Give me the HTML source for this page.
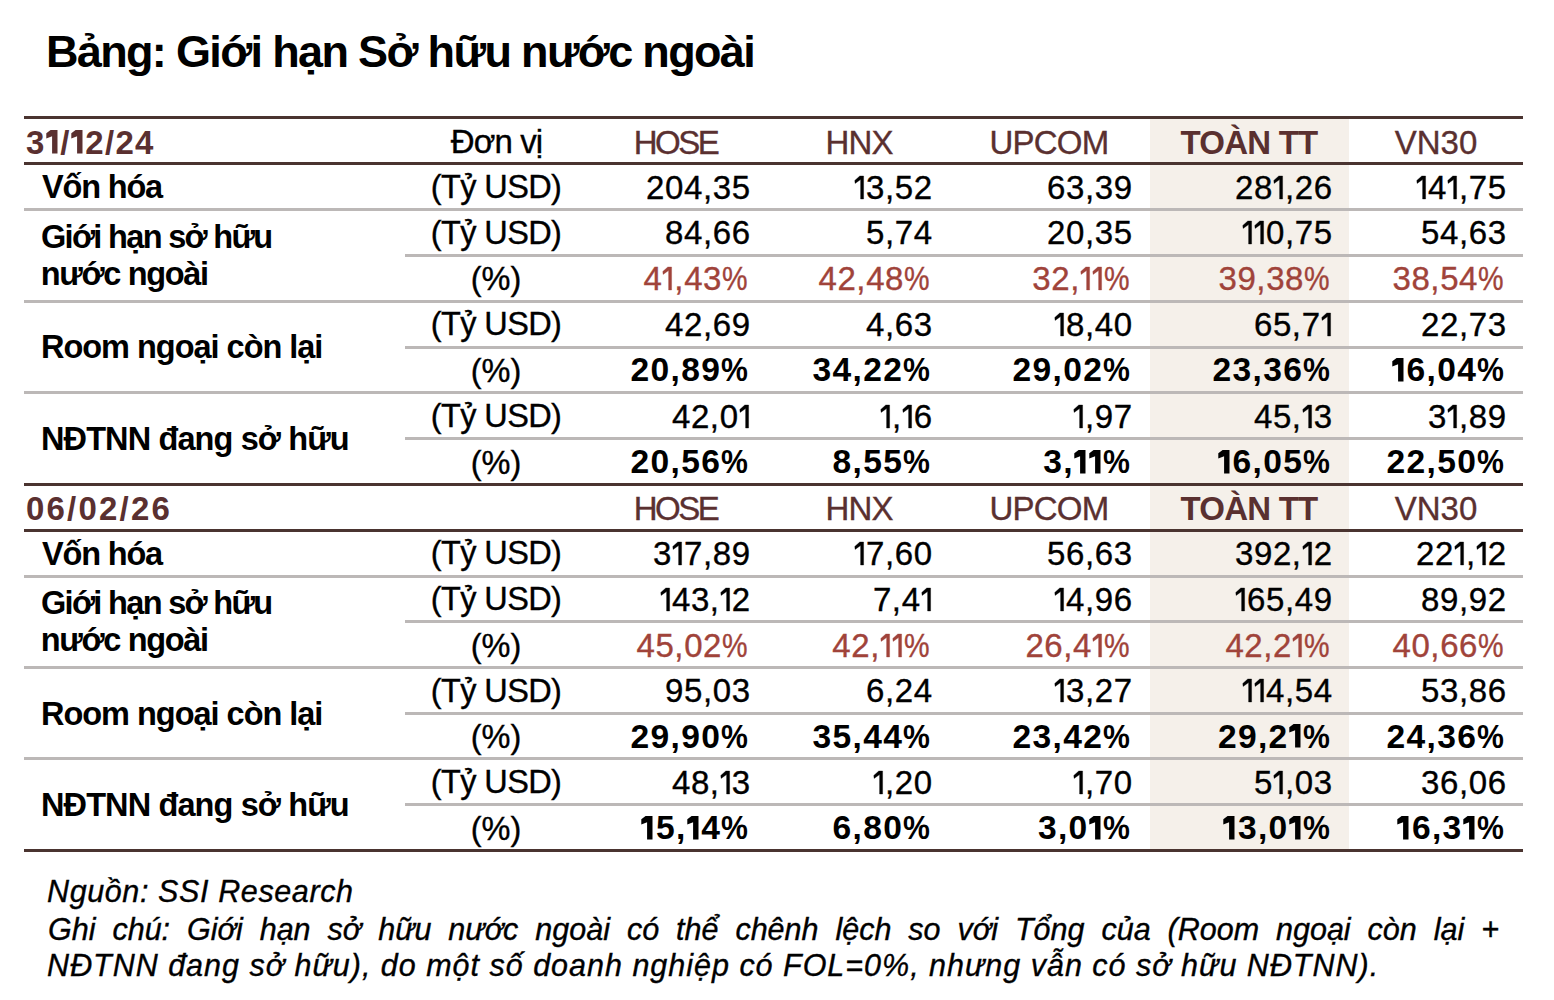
<!DOCTYPE html><html><head><meta charset="utf-8"><title>Giới hạn Sở hữu nước ngoài</title><style>
html,body{margin:0;padding:0;background:#fff;}
body{width:1554px;height:1000px;position:relative;overflow:hidden;font-family:"Liberation Sans",sans-serif;color:#000;}
.t{position:absolute;white-space:nowrap;-webkit-text-stroke:0.35px currentColor;}
.ln{position:absolute;}
</style></head><body>
<div class="ln" style="left:1150px;top:116px;width:199px;height:733px;background:#f5f0ea"></div>
<div class="ln" style="left:24px;top:116px;width:1499px;height:3px;background:#4a3430"></div>
<div class="ln" style="left:24px;top:162px;width:1499px;height:3px;background:#4a3430"></div>
<div class="ln" style="left:24px;top:208px;width:1499px;height:3px;background:#bcb8b7"></div>
<div class="ln" style="left:405px;top:254px;width:1118px;height:3px;background:#bcb8b7"></div>
<div class="ln" style="left:24px;top:300px;width:1499px;height:3px;background:#bcb8b7"></div>
<div class="ln" style="left:405px;top:346px;width:1118px;height:3px;background:#bcb8b7"></div>
<div class="ln" style="left:24px;top:391px;width:1499px;height:3px;background:#bcb8b7"></div>
<div class="ln" style="left:405px;top:437px;width:1118px;height:3px;background:#bcb8b7"></div>
<div class="ln" style="left:24px;top:483px;width:1499px;height:3px;background:#4a3430"></div>
<div class="ln" style="left:24px;top:529px;width:1499px;height:3px;background:#4a3430"></div>
<div class="ln" style="left:24px;top:575px;width:1499px;height:3px;background:#bcb8b7"></div>
<div class="ln" style="left:405px;top:620px;width:1118px;height:3px;background:#bcb8b7"></div>
<div class="ln" style="left:24px;top:666px;width:1499px;height:3px;background:#bcb8b7"></div>
<div class="ln" style="left:405px;top:712px;width:1118px;height:3px;background:#bcb8b7"></div>
<div class="ln" style="left:24px;top:757px;width:1499px;height:3px;background:#bcb8b7"></div>
<div class="ln" style="left:405px;top:803px;width:1118px;height:3px;background:#bcb8b7"></div>
<div class="ln" style="left:24px;top:849px;width:1499px;height:3px;background:#4a3430"></div>
<div class="t" style="top:29.43px;font-size:45.00px;line-height:45.00px;font-weight:bold;-webkit-text-stroke:0;letter-spacing:-1.66px;left:46.0px;">Bảng: Giới hạn Sở hữu nước ngoài</div>
<div class="t" style="top:125.78px;font-size:33.00px;line-height:33.00px;font-weight:bold;-webkit-text-stroke:0;color:#5a3030;letter-spacing:1.30px;left:26.0px;">3<svg width="14.6" height="23.4" viewBox="0 0 14.6 23.4" style="vertical-align:baseline;overflow:visible"><polygon points="0.3,3.3 4.6,0 11.5,0 11.5,23.4 6.1,23.4 6.1,6.2 0.3,8.6" fill="currentColor"/></svg>/<svg width="14.6" height="23.4" viewBox="0 0 14.6 23.4" style="vertical-align:baseline;overflow:visible"><polygon points="0.3,3.3 4.6,0 11.5,0 11.5,23.4 6.1,23.4 6.1,6.2 0.3,8.6" fill="currentColor"/></svg>2/24</div>
<div class="t" style="top:125.38px;font-size:33.00px;line-height:33.00px;letter-spacing:-0.90px;left:496.5px;width:0;display:flex;justify-content:center;">Đơn vị</div>
<div class="t" style="top:125.59px;font-size:33.00px;line-height:33.00px;color:#5a3030;letter-spacing:-2.50px;left:675.5px;width:0;display:flex;justify-content:center;">HOSE</div>
<div class="t" style="top:125.59px;font-size:33.00px;line-height:33.00px;color:#5a3030;letter-spacing:-0.90px;left:859.0px;width:0;display:flex;justify-content:center;">HNX</div>
<div class="t" style="top:125.59px;font-size:33.00px;line-height:33.00px;color:#5a3030;letter-spacing:-0.80px;left:1049.0px;width:0;display:flex;justify-content:center;">UPCOM</div>
<div class="t" style="top:125.78px;font-size:33.00px;line-height:33.00px;font-weight:bold;-webkit-text-stroke:0;color:#5a3030;letter-spacing:-0.80px;left:1249.0px;width:0;display:flex;justify-content:center;">TOÀN TT</div>
<div class="t" style="top:125.59px;font-size:33.00px;line-height:33.00px;color:#5a3030;left:1436.0px;width:0;display:flex;justify-content:center;">VN30</div>
<div class="t" style="top:170.81px;font-size:32.50px;line-height:32.50px;letter-spacing:-0.60px;left:496.0px;width:0;display:flex;justify-content:center;">(Tỷ USD)</div>
<div class="t" style="top:170.59px;font-size:33.00px;line-height:33.00px;letter-spacing:0.60px;right:803.40px;">204,35</div>
<div class="t" style="top:170.59px;font-size:33.00px;line-height:33.00px;letter-spacing:0.60px;right:621.40px;"><svg width="12.0" height="23.0" viewBox="0 0 12.0 23.0" style="vertical-align:baseline;overflow:visible"><polygon points="0.8,4.4 5.8,0 9.6,0 9.6,23 6.6,23 6.6,3.6 1.1,7.4" fill="currentColor" stroke="currentColor" stroke-width="0.35"/></svg>3,52</div>
<div class="t" style="top:170.59px;font-size:33.00px;line-height:33.00px;letter-spacing:0.60px;right:421.40px;">63,39</div>
<div class="t" style="top:170.59px;font-size:33.00px;line-height:33.00px;letter-spacing:0.60px;right:221.40px;">28<svg width="12.0" height="23.0" viewBox="0 0 12.0 23.0" style="vertical-align:baseline;overflow:visible"><polygon points="0.8,4.4 5.8,0 9.6,0 9.6,23 6.6,23 6.6,3.6 1.1,7.4" fill="currentColor" stroke="currentColor" stroke-width="0.35"/></svg>,26</div>
<div class="t" style="top:170.59px;font-size:33.00px;line-height:33.00px;letter-spacing:0.60px;right:47.40px;"><svg width="12.0" height="23.0" viewBox="0 0 12.0 23.0" style="vertical-align:baseline;overflow:visible"><polygon points="0.8,4.4 5.8,0 9.6,0 9.6,23 6.6,23 6.6,3.6 1.1,7.4" fill="currentColor" stroke="currentColor" stroke-width="0.35"/></svg>4<svg width="12.0" height="23.0" viewBox="0 0 12.0 23.0" style="vertical-align:baseline;overflow:visible"><polygon points="0.8,4.4 5.8,0 9.6,0 9.6,23 6.6,23 6.6,3.6 1.1,7.4" fill="currentColor" stroke="currentColor" stroke-width="0.35"/></svg>,75</div>
<div class="t" style="top:216.61px;font-size:32.50px;line-height:32.50px;letter-spacing:-0.60px;left:496.0px;width:0;display:flex;justify-content:center;">(Tỷ USD)</div>
<div class="t" style="top:216.38px;font-size:33.00px;line-height:33.00px;letter-spacing:0.60px;right:803.40px;">84,66</div>
<div class="t" style="top:216.38px;font-size:33.00px;line-height:33.00px;letter-spacing:0.60px;right:621.40px;">5,74</div>
<div class="t" style="top:216.38px;font-size:33.00px;line-height:33.00px;letter-spacing:0.60px;right:421.40px;">20,35</div>
<div class="t" style="top:216.38px;font-size:33.00px;line-height:33.00px;letter-spacing:0.60px;right:221.40px;"><svg width="12.0" height="23.0" viewBox="0 0 12.0 23.0" style="vertical-align:baseline;overflow:visible"><polygon points="0.8,4.4 5.8,0 9.6,0 9.6,23 6.6,23 6.6,3.6 1.1,7.4" fill="currentColor" stroke="currentColor" stroke-width="0.35"/></svg><svg width="12.0" height="23.0" viewBox="0 0 12.0 23.0" style="vertical-align:baseline;overflow:visible"><polygon points="0.8,4.4 5.8,0 9.6,0 9.6,23 6.6,23 6.6,3.6 1.1,7.4" fill="currentColor" stroke="currentColor" stroke-width="0.35"/></svg>0,75</div>
<div class="t" style="top:216.38px;font-size:33.00px;line-height:33.00px;letter-spacing:0.60px;right:47.40px;">54,63</div>
<div class="t" style="top:263.41px;font-size:32.50px;line-height:32.50px;left:496.0px;width:0;display:flex;justify-content:center;">(%)</div>
<div class="t" style="top:262.19px;font-size:33.00px;line-height:33.00px;color:#a0433a;letter-spacing:0.60px;right:805.40px;">4<svg width="12.0" height="23.0" viewBox="0 0 12.0 23.0" style="vertical-align:baseline;overflow:visible"><polygon points="0.8,4.4 5.8,0 9.6,0 9.6,23 6.6,23 6.6,3.6 1.1,7.4" fill="currentColor" stroke="currentColor" stroke-width="0.35"/></svg>,43<span style="display:inline-block;transform:scaleX(0.87);transform-origin:0 0;margin-right:-3.4px">%</span></div>
<div class="t" style="top:262.19px;font-size:33.00px;line-height:33.00px;color:#a0433a;letter-spacing:0.60px;right:623.40px;">42,48<span style="display:inline-block;transform:scaleX(0.87);transform-origin:0 0;margin-right:-3.4px">%</span></div>
<div class="t" style="top:262.19px;font-size:33.00px;line-height:33.00px;color:#a0433a;letter-spacing:0.60px;right:423.40px;">32,<svg width="12.0" height="23.0" viewBox="0 0 12.0 23.0" style="vertical-align:baseline;overflow:visible"><polygon points="0.8,4.4 5.8,0 9.6,0 9.6,23 6.6,23 6.6,3.6 1.1,7.4" fill="currentColor" stroke="currentColor" stroke-width="0.35"/></svg><svg width="12.0" height="23.0" viewBox="0 0 12.0 23.0" style="vertical-align:baseline;overflow:visible"><polygon points="0.8,4.4 5.8,0 9.6,0 9.6,23 6.6,23 6.6,3.6 1.1,7.4" fill="currentColor" stroke="currentColor" stroke-width="0.35"/></svg><span style="display:inline-block;transform:scaleX(0.87);transform-origin:0 0;margin-right:-3.4px">%</span></div>
<div class="t" style="top:262.19px;font-size:33.00px;line-height:33.00px;color:#a0433a;letter-spacing:0.60px;right:223.40px;">39,38<span style="display:inline-block;transform:scaleX(0.87);transform-origin:0 0;margin-right:-3.4px">%</span></div>
<div class="t" style="top:262.19px;font-size:33.00px;line-height:33.00px;color:#a0433a;letter-spacing:0.60px;right:49.40px;">38,54<span style="display:inline-block;transform:scaleX(0.87);transform-origin:0 0;margin-right:-3.4px">%</span></div>
<div class="t" style="top:308.21px;font-size:32.50px;line-height:32.50px;letter-spacing:-0.60px;left:496.0px;width:0;display:flex;justify-content:center;">(Tỷ USD)</div>
<div class="t" style="top:307.99px;font-size:33.00px;line-height:33.00px;letter-spacing:0.60px;right:803.40px;">42,69</div>
<div class="t" style="top:307.99px;font-size:33.00px;line-height:33.00px;letter-spacing:0.60px;right:621.40px;">4,63</div>
<div class="t" style="top:307.99px;font-size:33.00px;line-height:33.00px;letter-spacing:0.60px;right:421.40px;"><svg width="12.0" height="23.0" viewBox="0 0 12.0 23.0" style="vertical-align:baseline;overflow:visible"><polygon points="0.8,4.4 5.8,0 9.6,0 9.6,23 6.6,23 6.6,3.6 1.1,7.4" fill="currentColor" stroke="currentColor" stroke-width="0.35"/></svg>8,40</div>
<div class="t" style="top:307.99px;font-size:33.00px;line-height:33.00px;letter-spacing:0.60px;right:221.40px;">65,7<svg width="12.0" height="23.0" viewBox="0 0 12.0 23.0" style="vertical-align:baseline;overflow:visible"><polygon points="0.8,4.4 5.8,0 9.6,0 9.6,23 6.6,23 6.6,3.6 1.1,7.4" fill="currentColor" stroke="currentColor" stroke-width="0.35"/></svg></div>
<div class="t" style="top:307.99px;font-size:33.00px;line-height:33.00px;letter-spacing:0.60px;right:47.40px;">22,73</div>
<div class="t" style="top:355.01px;font-size:32.50px;line-height:32.50px;left:496.0px;width:0;display:flex;justify-content:center;">(%)</div>
<div class="t" style="top:353.47px;font-size:33.60px;line-height:33.60px;font-weight:bold;-webkit-text-stroke:0;letter-spacing:1.30px;right:804.70px;">20,89<span style="display:inline-block;transform:scaleX(0.9);transform-origin:0 0;margin-right:-3.0px">%</span></div>
<div class="t" style="top:353.47px;font-size:33.60px;line-height:33.60px;font-weight:bold;-webkit-text-stroke:0;letter-spacing:1.30px;right:622.70px;">34,22<span style="display:inline-block;transform:scaleX(0.9);transform-origin:0 0;margin-right:-3.0px">%</span></div>
<div class="t" style="top:353.47px;font-size:33.60px;line-height:33.60px;font-weight:bold;-webkit-text-stroke:0;letter-spacing:1.30px;right:422.70px;">29,02<span style="display:inline-block;transform:scaleX(0.9);transform-origin:0 0;margin-right:-3.0px">%</span></div>
<div class="t" style="top:353.47px;font-size:33.60px;line-height:33.60px;font-weight:bold;-webkit-text-stroke:0;letter-spacing:1.30px;right:222.70px;">23,36<span style="display:inline-block;transform:scaleX(0.9);transform-origin:0 0;margin-right:-3.0px">%</span></div>
<div class="t" style="top:353.47px;font-size:33.60px;line-height:33.60px;font-weight:bold;-webkit-text-stroke:0;letter-spacing:1.30px;right:48.70px;"><svg width="14.6" height="23.4" viewBox="0 0 14.6 23.4" style="vertical-align:baseline;overflow:visible"><polygon points="0.3,3.3 4.6,0 11.5,0 11.5,23.4 6.1,23.4 6.1,6.2 0.3,8.6" fill="currentColor"/></svg>6,04<span style="display:inline-block;transform:scaleX(0.9);transform-origin:0 0;margin-right:-3.0px">%</span></div>
<div class="t" style="top:399.81px;font-size:32.50px;line-height:32.50px;letter-spacing:-0.60px;left:496.0px;width:0;display:flex;justify-content:center;">(Tỷ USD)</div>
<div class="t" style="top:399.58px;font-size:33.00px;line-height:33.00px;letter-spacing:0.60px;right:803.40px;">42,0<svg width="12.0" height="23.0" viewBox="0 0 12.0 23.0" style="vertical-align:baseline;overflow:visible"><polygon points="0.8,4.4 5.8,0 9.6,0 9.6,23 6.6,23 6.6,3.6 1.1,7.4" fill="currentColor" stroke="currentColor" stroke-width="0.35"/></svg></div>
<div class="t" style="top:399.58px;font-size:33.00px;line-height:33.00px;letter-spacing:0.60px;right:621.40px;"><svg width="12.0" height="23.0" viewBox="0 0 12.0 23.0" style="vertical-align:baseline;overflow:visible"><polygon points="0.8,4.4 5.8,0 9.6,0 9.6,23 6.6,23 6.6,3.6 1.1,7.4" fill="currentColor" stroke="currentColor" stroke-width="0.35"/></svg>,<svg width="12.0" height="23.0" viewBox="0 0 12.0 23.0" style="vertical-align:baseline;overflow:visible"><polygon points="0.8,4.4 5.8,0 9.6,0 9.6,23 6.6,23 6.6,3.6 1.1,7.4" fill="currentColor" stroke="currentColor" stroke-width="0.35"/></svg>6</div>
<div class="t" style="top:399.58px;font-size:33.00px;line-height:33.00px;letter-spacing:0.60px;right:421.40px;"><svg width="12.0" height="23.0" viewBox="0 0 12.0 23.0" style="vertical-align:baseline;overflow:visible"><polygon points="0.8,4.4 5.8,0 9.6,0 9.6,23 6.6,23 6.6,3.6 1.1,7.4" fill="currentColor" stroke="currentColor" stroke-width="0.35"/></svg>,97</div>
<div class="t" style="top:399.58px;font-size:33.00px;line-height:33.00px;letter-spacing:0.60px;right:221.40px;">45,<svg width="12.0" height="23.0" viewBox="0 0 12.0 23.0" style="vertical-align:baseline;overflow:visible"><polygon points="0.8,4.4 5.8,0 9.6,0 9.6,23 6.6,23 6.6,3.6 1.1,7.4" fill="currentColor" stroke="currentColor" stroke-width="0.35"/></svg>3</div>
<div class="t" style="top:399.58px;font-size:33.00px;line-height:33.00px;letter-spacing:0.60px;right:47.40px;">3<svg width="12.0" height="23.0" viewBox="0 0 12.0 23.0" style="vertical-align:baseline;overflow:visible"><polygon points="0.8,4.4 5.8,0 9.6,0 9.6,23 6.6,23 6.6,3.6 1.1,7.4" fill="currentColor" stroke="currentColor" stroke-width="0.35"/></svg>,89</div>
<div class="t" style="top:446.61px;font-size:32.50px;line-height:32.50px;left:496.0px;width:0;display:flex;justify-content:center;">(%)</div>
<div class="t" style="top:445.07px;font-size:33.60px;line-height:33.60px;font-weight:bold;-webkit-text-stroke:0;letter-spacing:1.30px;right:804.70px;">20,56<span style="display:inline-block;transform:scaleX(0.9);transform-origin:0 0;margin-right:-3.0px">%</span></div>
<div class="t" style="top:445.07px;font-size:33.60px;line-height:33.60px;font-weight:bold;-webkit-text-stroke:0;letter-spacing:1.30px;right:622.70px;">8,55<span style="display:inline-block;transform:scaleX(0.9);transform-origin:0 0;margin-right:-3.0px">%</span></div>
<div class="t" style="top:445.07px;font-size:33.60px;line-height:33.60px;font-weight:bold;-webkit-text-stroke:0;letter-spacing:1.30px;right:422.70px;">3,<svg width="14.6" height="23.4" viewBox="0 0 14.6 23.4" style="vertical-align:baseline;overflow:visible"><polygon points="0.3,3.3 4.6,0 11.5,0 11.5,23.4 6.1,23.4 6.1,6.2 0.3,8.6" fill="currentColor"/></svg><svg width="14.6" height="23.4" viewBox="0 0 14.6 23.4" style="vertical-align:baseline;overflow:visible"><polygon points="0.3,3.3 4.6,0 11.5,0 11.5,23.4 6.1,23.4 6.1,6.2 0.3,8.6" fill="currentColor"/></svg><span style="display:inline-block;transform:scaleX(0.9);transform-origin:0 0;margin-right:-3.0px">%</span></div>
<div class="t" style="top:445.07px;font-size:33.60px;line-height:33.60px;font-weight:bold;-webkit-text-stroke:0;letter-spacing:1.30px;right:222.70px;"><svg width="14.6" height="23.4" viewBox="0 0 14.6 23.4" style="vertical-align:baseline;overflow:visible"><polygon points="0.3,3.3 4.6,0 11.5,0 11.5,23.4 6.1,23.4 6.1,6.2 0.3,8.6" fill="currentColor"/></svg>6,05<span style="display:inline-block;transform:scaleX(0.9);transform-origin:0 0;margin-right:-3.0px">%</span></div>
<div class="t" style="top:445.07px;font-size:33.60px;line-height:33.60px;font-weight:bold;-webkit-text-stroke:0;letter-spacing:1.30px;right:48.70px;">22,50<span style="display:inline-block;transform:scaleX(0.9);transform-origin:0 0;margin-right:-3.0px">%</span></div>
<div class="t" style="top:171.11px;font-size:32.50px;line-height:32.50px;font-weight:bold;-webkit-text-stroke:0;letter-spacing:-1.17px;left:42.0px;">Vốn hóa</div>
<div class="t" style="top:221.01px;font-size:32.50px;line-height:32.50px;font-weight:bold;-webkit-text-stroke:0;letter-spacing:-1.68px;left:41.0px;">Giới hạn sở hữu</div>
<div class="t" style="top:258.01px;font-size:32.50px;line-height:32.50px;font-weight:bold;-webkit-text-stroke:0;letter-spacing:-1.33px;left:40.7px;">nước ngoài</div>
<div class="t" style="top:331.31px;font-size:32.50px;line-height:32.50px;font-weight:bold;-webkit-text-stroke:0;letter-spacing:-1.02px;left:41.0px;">Room ngoại còn lại</div>
<div class="t" style="top:422.71px;font-size:32.50px;line-height:32.50px;font-weight:bold;-webkit-text-stroke:0;letter-spacing:-0.89px;left:41.0px;">NĐTNN đang sở hữu</div>
<div class="t" style="top:492.19px;font-size:33.00px;line-height:33.00px;font-weight:bold;-webkit-text-stroke:0;color:#5a3030;letter-spacing:2.20px;left:26.0px;">06/02/26</div>
<div class="t" style="top:491.98px;font-size:33.00px;line-height:33.00px;color:#5a3030;letter-spacing:-2.50px;left:675.5px;width:0;display:flex;justify-content:center;">HOSE</div>
<div class="t" style="top:491.98px;font-size:33.00px;line-height:33.00px;color:#5a3030;letter-spacing:-0.90px;left:859.0px;width:0;display:flex;justify-content:center;">HNX</div>
<div class="t" style="top:491.98px;font-size:33.00px;line-height:33.00px;color:#5a3030;letter-spacing:-0.80px;left:1049.0px;width:0;display:flex;justify-content:center;">UPCOM</div>
<div class="t" style="top:492.19px;font-size:33.00px;line-height:33.00px;font-weight:bold;-webkit-text-stroke:0;color:#5a3030;letter-spacing:-0.80px;left:1249.0px;width:0;display:flex;justify-content:center;">TOÀN TT</div>
<div class="t" style="top:491.98px;font-size:33.00px;line-height:33.00px;color:#5a3030;left:1436.0px;width:0;display:flex;justify-content:center;">VN30</div>
<div class="t" style="top:537.21px;font-size:32.50px;line-height:32.50px;letter-spacing:-0.60px;left:496.0px;width:0;display:flex;justify-content:center;">(Tỷ USD)</div>
<div class="t" style="top:536.99px;font-size:33.00px;line-height:33.00px;letter-spacing:0.60px;right:803.40px;">3<svg width="12.0" height="23.0" viewBox="0 0 12.0 23.0" style="vertical-align:baseline;overflow:visible"><polygon points="0.8,4.4 5.8,0 9.6,0 9.6,23 6.6,23 6.6,3.6 1.1,7.4" fill="currentColor" stroke="currentColor" stroke-width="0.35"/></svg>7,89</div>
<div class="t" style="top:536.99px;font-size:33.00px;line-height:33.00px;letter-spacing:0.60px;right:621.40px;"><svg width="12.0" height="23.0" viewBox="0 0 12.0 23.0" style="vertical-align:baseline;overflow:visible"><polygon points="0.8,4.4 5.8,0 9.6,0 9.6,23 6.6,23 6.6,3.6 1.1,7.4" fill="currentColor" stroke="currentColor" stroke-width="0.35"/></svg>7,60</div>
<div class="t" style="top:536.99px;font-size:33.00px;line-height:33.00px;letter-spacing:0.60px;right:421.40px;">56,63</div>
<div class="t" style="top:536.99px;font-size:33.00px;line-height:33.00px;letter-spacing:0.60px;right:221.40px;">392,<svg width="12.0" height="23.0" viewBox="0 0 12.0 23.0" style="vertical-align:baseline;overflow:visible"><polygon points="0.8,4.4 5.8,0 9.6,0 9.6,23 6.6,23 6.6,3.6 1.1,7.4" fill="currentColor" stroke="currentColor" stroke-width="0.35"/></svg>2</div>
<div class="t" style="top:536.99px;font-size:33.00px;line-height:33.00px;letter-spacing:0.60px;right:47.40px;">22<svg width="12.0" height="23.0" viewBox="0 0 12.0 23.0" style="vertical-align:baseline;overflow:visible"><polygon points="0.8,4.4 5.8,0 9.6,0 9.6,23 6.6,23 6.6,3.6 1.1,7.4" fill="currentColor" stroke="currentColor" stroke-width="0.35"/></svg>,<svg width="12.0" height="23.0" viewBox="0 0 12.0 23.0" style="vertical-align:baseline;overflow:visible"><polygon points="0.8,4.4 5.8,0 9.6,0 9.6,23 6.6,23 6.6,3.6 1.1,7.4" fill="currentColor" stroke="currentColor" stroke-width="0.35"/></svg>2</div>
<div class="t" style="top:583.01px;font-size:32.50px;line-height:32.50px;letter-spacing:-0.60px;left:496.0px;width:0;display:flex;justify-content:center;">(Tỷ USD)</div>
<div class="t" style="top:582.78px;font-size:33.00px;line-height:33.00px;letter-spacing:0.60px;right:803.40px;"><svg width="12.0" height="23.0" viewBox="0 0 12.0 23.0" style="vertical-align:baseline;overflow:visible"><polygon points="0.8,4.4 5.8,0 9.6,0 9.6,23 6.6,23 6.6,3.6 1.1,7.4" fill="currentColor" stroke="currentColor" stroke-width="0.35"/></svg>43,<svg width="12.0" height="23.0" viewBox="0 0 12.0 23.0" style="vertical-align:baseline;overflow:visible"><polygon points="0.8,4.4 5.8,0 9.6,0 9.6,23 6.6,23 6.6,3.6 1.1,7.4" fill="currentColor" stroke="currentColor" stroke-width="0.35"/></svg>2</div>
<div class="t" style="top:582.78px;font-size:33.00px;line-height:33.00px;letter-spacing:0.60px;right:621.40px;">7,4<svg width="12.0" height="23.0" viewBox="0 0 12.0 23.0" style="vertical-align:baseline;overflow:visible"><polygon points="0.8,4.4 5.8,0 9.6,0 9.6,23 6.6,23 6.6,3.6 1.1,7.4" fill="currentColor" stroke="currentColor" stroke-width="0.35"/></svg></div>
<div class="t" style="top:582.78px;font-size:33.00px;line-height:33.00px;letter-spacing:0.60px;right:421.40px;"><svg width="12.0" height="23.0" viewBox="0 0 12.0 23.0" style="vertical-align:baseline;overflow:visible"><polygon points="0.8,4.4 5.8,0 9.6,0 9.6,23 6.6,23 6.6,3.6 1.1,7.4" fill="currentColor" stroke="currentColor" stroke-width="0.35"/></svg>4,96</div>
<div class="t" style="top:582.78px;font-size:33.00px;line-height:33.00px;letter-spacing:0.60px;right:221.40px;"><svg width="12.0" height="23.0" viewBox="0 0 12.0 23.0" style="vertical-align:baseline;overflow:visible"><polygon points="0.8,4.4 5.8,0 9.6,0 9.6,23 6.6,23 6.6,3.6 1.1,7.4" fill="currentColor" stroke="currentColor" stroke-width="0.35"/></svg>65,49</div>
<div class="t" style="top:582.78px;font-size:33.00px;line-height:33.00px;letter-spacing:0.60px;right:47.40px;">89,92</div>
<div class="t" style="top:629.81px;font-size:32.50px;line-height:32.50px;left:496.0px;width:0;display:flex;justify-content:center;">(%)</div>
<div class="t" style="top:628.58px;font-size:33.00px;line-height:33.00px;color:#a0433a;letter-spacing:0.60px;right:805.40px;">45,02<span style="display:inline-block;transform:scaleX(0.87);transform-origin:0 0;margin-right:-3.4px">%</span></div>
<div class="t" style="top:628.58px;font-size:33.00px;line-height:33.00px;color:#a0433a;letter-spacing:0.60px;right:623.40px;">42,<svg width="12.0" height="23.0" viewBox="0 0 12.0 23.0" style="vertical-align:baseline;overflow:visible"><polygon points="0.8,4.4 5.8,0 9.6,0 9.6,23 6.6,23 6.6,3.6 1.1,7.4" fill="currentColor" stroke="currentColor" stroke-width="0.35"/></svg><svg width="12.0" height="23.0" viewBox="0 0 12.0 23.0" style="vertical-align:baseline;overflow:visible"><polygon points="0.8,4.4 5.8,0 9.6,0 9.6,23 6.6,23 6.6,3.6 1.1,7.4" fill="currentColor" stroke="currentColor" stroke-width="0.35"/></svg><span style="display:inline-block;transform:scaleX(0.87);transform-origin:0 0;margin-right:-3.4px">%</span></div>
<div class="t" style="top:628.58px;font-size:33.00px;line-height:33.00px;color:#a0433a;letter-spacing:0.60px;right:423.40px;">26,4<svg width="12.0" height="23.0" viewBox="0 0 12.0 23.0" style="vertical-align:baseline;overflow:visible"><polygon points="0.8,4.4 5.8,0 9.6,0 9.6,23 6.6,23 6.6,3.6 1.1,7.4" fill="currentColor" stroke="currentColor" stroke-width="0.35"/></svg><span style="display:inline-block;transform:scaleX(0.87);transform-origin:0 0;margin-right:-3.4px">%</span></div>
<div class="t" style="top:628.58px;font-size:33.00px;line-height:33.00px;color:#a0433a;letter-spacing:0.60px;right:223.40px;">42,2<svg width="12.0" height="23.0" viewBox="0 0 12.0 23.0" style="vertical-align:baseline;overflow:visible"><polygon points="0.8,4.4 5.8,0 9.6,0 9.6,23 6.6,23 6.6,3.6 1.1,7.4" fill="currentColor" stroke="currentColor" stroke-width="0.35"/></svg><span style="display:inline-block;transform:scaleX(0.87);transform-origin:0 0;margin-right:-3.4px">%</span></div>
<div class="t" style="top:628.58px;font-size:33.00px;line-height:33.00px;color:#a0433a;letter-spacing:0.60px;right:49.40px;">40,66<span style="display:inline-block;transform:scaleX(0.87);transform-origin:0 0;margin-right:-3.4px">%</span></div>
<div class="t" style="top:674.61px;font-size:32.50px;line-height:32.50px;letter-spacing:-0.60px;left:496.0px;width:0;display:flex;justify-content:center;">(Tỷ USD)</div>
<div class="t" style="top:674.38px;font-size:33.00px;line-height:33.00px;letter-spacing:0.60px;right:803.40px;">95,03</div>
<div class="t" style="top:674.38px;font-size:33.00px;line-height:33.00px;letter-spacing:0.60px;right:621.40px;">6,24</div>
<div class="t" style="top:674.38px;font-size:33.00px;line-height:33.00px;letter-spacing:0.60px;right:421.40px;"><svg width="12.0" height="23.0" viewBox="0 0 12.0 23.0" style="vertical-align:baseline;overflow:visible"><polygon points="0.8,4.4 5.8,0 9.6,0 9.6,23 6.6,23 6.6,3.6 1.1,7.4" fill="currentColor" stroke="currentColor" stroke-width="0.35"/></svg>3,27</div>
<div class="t" style="top:674.38px;font-size:33.00px;line-height:33.00px;letter-spacing:0.60px;right:221.40px;"><svg width="12.0" height="23.0" viewBox="0 0 12.0 23.0" style="vertical-align:baseline;overflow:visible"><polygon points="0.8,4.4 5.8,0 9.6,0 9.6,23 6.6,23 6.6,3.6 1.1,7.4" fill="currentColor" stroke="currentColor" stroke-width="0.35"/></svg><svg width="12.0" height="23.0" viewBox="0 0 12.0 23.0" style="vertical-align:baseline;overflow:visible"><polygon points="0.8,4.4 5.8,0 9.6,0 9.6,23 6.6,23 6.6,3.6 1.1,7.4" fill="currentColor" stroke="currentColor" stroke-width="0.35"/></svg>4,54</div>
<div class="t" style="top:674.38px;font-size:33.00px;line-height:33.00px;letter-spacing:0.60px;right:47.40px;">53,86</div>
<div class="t" style="top:721.41px;font-size:32.50px;line-height:32.50px;left:496.0px;width:0;display:flex;justify-content:center;">(%)</div>
<div class="t" style="top:719.87px;font-size:33.60px;line-height:33.60px;font-weight:bold;-webkit-text-stroke:0;letter-spacing:1.30px;right:804.70px;">29,90<span style="display:inline-block;transform:scaleX(0.9);transform-origin:0 0;margin-right:-3.0px">%</span></div>
<div class="t" style="top:719.87px;font-size:33.60px;line-height:33.60px;font-weight:bold;-webkit-text-stroke:0;letter-spacing:1.30px;right:622.70px;">35,44<span style="display:inline-block;transform:scaleX(0.9);transform-origin:0 0;margin-right:-3.0px">%</span></div>
<div class="t" style="top:719.87px;font-size:33.60px;line-height:33.60px;font-weight:bold;-webkit-text-stroke:0;letter-spacing:1.30px;right:422.70px;">23,42<span style="display:inline-block;transform:scaleX(0.9);transform-origin:0 0;margin-right:-3.0px">%</span></div>
<div class="t" style="top:719.87px;font-size:33.60px;line-height:33.60px;font-weight:bold;-webkit-text-stroke:0;letter-spacing:1.30px;right:222.70px;">29,2<svg width="14.6" height="23.4" viewBox="0 0 14.6 23.4" style="vertical-align:baseline;overflow:visible"><polygon points="0.3,3.3 4.6,0 11.5,0 11.5,23.4 6.1,23.4 6.1,6.2 0.3,8.6" fill="currentColor"/></svg><span style="display:inline-block;transform:scaleX(0.9);transform-origin:0 0;margin-right:-3.0px">%</span></div>
<div class="t" style="top:719.87px;font-size:33.60px;line-height:33.60px;font-weight:bold;-webkit-text-stroke:0;letter-spacing:1.30px;right:48.70px;">24,36<span style="display:inline-block;transform:scaleX(0.9);transform-origin:0 0;margin-right:-3.0px">%</span></div>
<div class="t" style="top:766.21px;font-size:32.50px;line-height:32.50px;letter-spacing:-0.60px;left:496.0px;width:0;display:flex;justify-content:center;">(Tỷ USD)</div>
<div class="t" style="top:765.98px;font-size:33.00px;line-height:33.00px;letter-spacing:0.60px;right:803.40px;">48,<svg width="12.0" height="23.0" viewBox="0 0 12.0 23.0" style="vertical-align:baseline;overflow:visible"><polygon points="0.8,4.4 5.8,0 9.6,0 9.6,23 6.6,23 6.6,3.6 1.1,7.4" fill="currentColor" stroke="currentColor" stroke-width="0.35"/></svg>3</div>
<div class="t" style="top:765.98px;font-size:33.00px;line-height:33.00px;letter-spacing:0.60px;right:621.40px;"><svg width="12.0" height="23.0" viewBox="0 0 12.0 23.0" style="vertical-align:baseline;overflow:visible"><polygon points="0.8,4.4 5.8,0 9.6,0 9.6,23 6.6,23 6.6,3.6 1.1,7.4" fill="currentColor" stroke="currentColor" stroke-width="0.35"/></svg>,20</div>
<div class="t" style="top:765.98px;font-size:33.00px;line-height:33.00px;letter-spacing:0.60px;right:421.40px;"><svg width="12.0" height="23.0" viewBox="0 0 12.0 23.0" style="vertical-align:baseline;overflow:visible"><polygon points="0.8,4.4 5.8,0 9.6,0 9.6,23 6.6,23 6.6,3.6 1.1,7.4" fill="currentColor" stroke="currentColor" stroke-width="0.35"/></svg>,70</div>
<div class="t" style="top:765.98px;font-size:33.00px;line-height:33.00px;letter-spacing:0.60px;right:221.40px;">5<svg width="12.0" height="23.0" viewBox="0 0 12.0 23.0" style="vertical-align:baseline;overflow:visible"><polygon points="0.8,4.4 5.8,0 9.6,0 9.6,23 6.6,23 6.6,3.6 1.1,7.4" fill="currentColor" stroke="currentColor" stroke-width="0.35"/></svg>,03</div>
<div class="t" style="top:765.98px;font-size:33.00px;line-height:33.00px;letter-spacing:0.60px;right:47.40px;">36,06</div>
<div class="t" style="top:813.01px;font-size:32.50px;line-height:32.50px;left:496.0px;width:0;display:flex;justify-content:center;">(%)</div>
<div class="t" style="top:811.47px;font-size:33.60px;line-height:33.60px;font-weight:bold;-webkit-text-stroke:0;letter-spacing:1.30px;right:804.70px;"><svg width="14.6" height="23.4" viewBox="0 0 14.6 23.4" style="vertical-align:baseline;overflow:visible"><polygon points="0.3,3.3 4.6,0 11.5,0 11.5,23.4 6.1,23.4 6.1,6.2 0.3,8.6" fill="currentColor"/></svg>5,<svg width="14.6" height="23.4" viewBox="0 0 14.6 23.4" style="vertical-align:baseline;overflow:visible"><polygon points="0.3,3.3 4.6,0 11.5,0 11.5,23.4 6.1,23.4 6.1,6.2 0.3,8.6" fill="currentColor"/></svg>4<span style="display:inline-block;transform:scaleX(0.9);transform-origin:0 0;margin-right:-3.0px">%</span></div>
<div class="t" style="top:811.47px;font-size:33.60px;line-height:33.60px;font-weight:bold;-webkit-text-stroke:0;letter-spacing:1.30px;right:622.70px;">6,80<span style="display:inline-block;transform:scaleX(0.9);transform-origin:0 0;margin-right:-3.0px">%</span></div>
<div class="t" style="top:811.47px;font-size:33.60px;line-height:33.60px;font-weight:bold;-webkit-text-stroke:0;letter-spacing:1.30px;right:422.70px;">3,0<svg width="14.6" height="23.4" viewBox="0 0 14.6 23.4" style="vertical-align:baseline;overflow:visible"><polygon points="0.3,3.3 4.6,0 11.5,0 11.5,23.4 6.1,23.4 6.1,6.2 0.3,8.6" fill="currentColor"/></svg><span style="display:inline-block;transform:scaleX(0.9);transform-origin:0 0;margin-right:-3.0px">%</span></div>
<div class="t" style="top:811.47px;font-size:33.60px;line-height:33.60px;font-weight:bold;-webkit-text-stroke:0;letter-spacing:1.30px;right:222.70px;"><svg width="14.6" height="23.4" viewBox="0 0 14.6 23.4" style="vertical-align:baseline;overflow:visible"><polygon points="0.3,3.3 4.6,0 11.5,0 11.5,23.4 6.1,23.4 6.1,6.2 0.3,8.6" fill="currentColor"/></svg>3,0<svg width="14.6" height="23.4" viewBox="0 0 14.6 23.4" style="vertical-align:baseline;overflow:visible"><polygon points="0.3,3.3 4.6,0 11.5,0 11.5,23.4 6.1,23.4 6.1,6.2 0.3,8.6" fill="currentColor"/></svg><span style="display:inline-block;transform:scaleX(0.9);transform-origin:0 0;margin-right:-3.0px">%</span></div>
<div class="t" style="top:811.47px;font-size:33.60px;line-height:33.60px;font-weight:bold;-webkit-text-stroke:0;letter-spacing:1.30px;right:48.70px;"><svg width="14.6" height="23.4" viewBox="0 0 14.6 23.4" style="vertical-align:baseline;overflow:visible"><polygon points="0.3,3.3 4.6,0 11.5,0 11.5,23.4 6.1,23.4 6.1,6.2 0.3,8.6" fill="currentColor"/></svg>6,3<svg width="14.6" height="23.4" viewBox="0 0 14.6 23.4" style="vertical-align:baseline;overflow:visible"><polygon points="0.3,3.3 4.6,0 11.5,0 11.5,23.4 6.1,23.4 6.1,6.2 0.3,8.6" fill="currentColor"/></svg><span style="display:inline-block;transform:scaleX(0.9);transform-origin:0 0;margin-right:-3.0px">%</span></div>
<div class="t" style="top:537.51px;font-size:32.50px;line-height:32.50px;font-weight:bold;-webkit-text-stroke:0;letter-spacing:-1.17px;left:42.0px;">Vốn hóa</div>
<div class="t" style="top:587.41px;font-size:32.50px;line-height:32.50px;font-weight:bold;-webkit-text-stroke:0;letter-spacing:-1.68px;left:41.0px;">Giới hạn sở hữu</div>
<div class="t" style="top:624.41px;font-size:32.50px;line-height:32.50px;font-weight:bold;-webkit-text-stroke:0;letter-spacing:-1.33px;left:40.7px;">nước ngoài</div>
<div class="t" style="top:697.71px;font-size:32.50px;line-height:32.50px;font-weight:bold;-webkit-text-stroke:0;letter-spacing:-1.02px;left:41.0px;">Room ngoại còn lại</div>
<div class="t" style="top:789.11px;font-size:32.50px;line-height:32.50px;font-weight:bold;-webkit-text-stroke:0;letter-spacing:-0.89px;left:41.0px;">NĐTNN đang sở hữu</div>
<div class="t" style="top:875.72px;font-size:30.50px;line-height:30.50px;font-style:italic;letter-spacing:0.61px;left:47.0px;">Nguồn: SSI Research</div>
<div class="t" style="top:913.52px;font-size:30.50px;line-height:30.50px;font-style:italic;left:48.0px;width:1451.0px;text-align:justify;text-align-last:justify;">Ghi chú: Giới hạn sở hữu nước ngoài có thể chênh lệch so với Tổng của (Room ngoại còn lại +</div>
<div class="t" style="top:950.12px;font-size:30.50px;line-height:30.50px;font-style:italic;letter-spacing:0.99px;left:47.0px;">NĐTNN đang sở hữu), do một số doanh nghiệp có FOL=0%, nhưng vẫn có sở hữu NĐTNN).</div>
</body></html>
